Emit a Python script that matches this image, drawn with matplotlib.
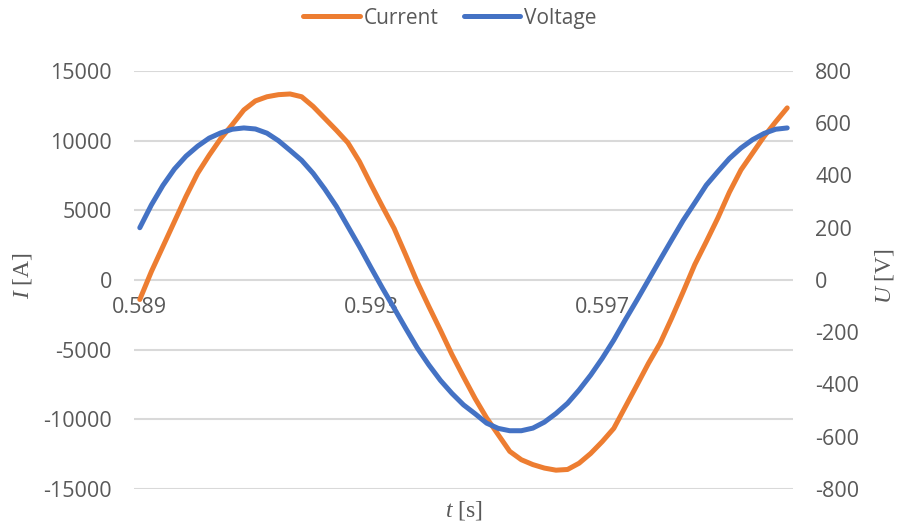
import matplotlib

matplotlib.use("Agg")
import matplotlib.pyplot as plt

# sample times [s], one sample every 0.2 ms
time_s = [
    0.5890, 0.5892, 0.5894, 0.5896, 0.5898, 0.5900, 0.5902, 0.5904, 0.5906, 0.5908,
    0.5910, 0.5912, 0.5914, 0.5916, 0.5918, 0.5920, 0.5922, 0.5924, 0.5926, 0.5928,
    0.5930, 0.5932, 0.5934, 0.5936, 0.5938, 0.5940, 0.5942, 0.5944, 0.5946, 0.5948,
    0.5950, 0.5952, 0.5954, 0.5956, 0.5958, 0.5960, 0.5962, 0.5964, 0.5966, 0.5968,
    0.5970, 0.5972, 0.5974, 0.5976, 0.5978, 0.5980, 0.5982, 0.5984, 0.5986, 0.5988,
    0.5990, 0.5992, 0.5994, 0.5996, 0.5998, 0.6000, 0.6002,
]

current_a = [
    -1400, 600, 2400, 4200, 6000, 7650, 8950, 10150, 11150, 12200,
    12850, 13150, 13300, 13350, 13150, 12450, 11600, 10750, 9850, 8500,
    6850, 5250, 3700, 1800, -150, -1900, -3600, -5350, -6950, -8500,
    -9900, -11100, -12300, -12900, -13250, -13500, -13650, -13600, -13150, -12450,
    -11600, -10650, -9100, -7550, -5980, -4550, -2750, -850, 1100, 2750,
    4450, 6300, 7900, 9100, 10300, 11350, 12350,
]

voltage_v = [
    200, 287, 362, 425, 474, 512, 543, 563, 577, 582,
    578, 562, 533, 496, 458, 408, 348, 282, 205, 128,
    47, -32, -108, -185, -260, -325, -384, -434, -478, -512,
    -548, -568, -577, -577, -567, -544, -511, -472, -421, -364,
    -300, -230, -152, -77, 0, 77, 153, 228, 295, 363,
    415, 465, 505, 537, 561, 577, 582,
]

time_ticks = [0.589, 0.593, 0.597]
current_ticks = [-15000, -10000, -5000, 0, 5000, 10000, 15000]
voltage_ticks = [-800, -600, -400, -200, 0, 200, 400, 600, 800]

ORANGE = "#ED7D31"
BLUE = "#4472C4"
GREY = "#595959"
GRID = "#D9D9D9"

plt.rcParams["font.family"] = ["Open Sans", "DejaVu Sans"]
plt.rcParams["axes.unicode_minus"] = False
plt.rcParams["mathtext.fontset"] = "custom"
plt.rcParams["mathtext.it"] = "Liberation Serif:italic"
plt.rcParams["mathtext.rm"] = "Liberation Serif"

fig = plt.figure(figsize=(9, 5.25), dpi=100)
ax = fig.add_axes([0.1489, 0.0686, 0.7322, 0.7962])
ax2 = ax.twinx()

line_kw = dict(linewidth=3.6, solid_capstyle="round", solid_joinstyle="round")
(l_cur,) = ax.plot(time_s, current_a, color=ORANGE, label="Current", **line_kw)
(l_volt,) = ax2.plot(time_s, voltage_v, color=BLUE, label="Voltage", **line_kw)

step = time_s[1] - time_s[0]
ax.set_xlim(time_s[0] - step / 2, time_s[-1] + step / 2)
ax.set_ylim(-15000, 15000)
ax2.set_ylim(-800, 800)

ax.set_yticks(current_ticks)
ax2.set_yticks(voltage_ticks)
ax.set_xticks(time_ticks)
ax.set_xticklabels([f"{t:.3f}" for t in time_ticks])

# category axis crosses at zero, labels hang just under it
ax.spines["bottom"].set_position(("data", 0))
for a in (ax, ax2):
    for sp in a.spines.values():
        sp.set_visible(False)

ax.grid(axis="y", color=GRID, linewidth=1.5)
ax.set_axisbelow(True)

TICK_SIZE = 15.5
ax.tick_params(axis="x", length=0, pad=12, labelsize=TICK_SIZE, labelcolor=GREY)
ax.tick_params(axis="y", length=0, pad=16, labelsize=TICK_SIZE, labelcolor=GREY)
ax2.tick_params(axis="y", length=0, pad=16, labelsize=TICK_SIZE, labelcolor=GREY)

# axis titles: italic quantity symbol, upright unit
label_kw = dict(fontsize=17, color=GREY, family="Liberation Serif",
                ha="center", va="center")
fig.text(0.515, 1 - 510 / 525, r"$t$ [s]", **label_kw)
fig.text(23 / 900, 1 - 276 / 525, r"$I$ [A]", rotation=90, **label_kw)
fig.text(885 / 900, 1 - 276 / 525, r"$U$ [V]", rotation=90, **label_kw)

fig.legend(
    handles=[l_cur, l_volt],
    loc="center",
    bbox_to_anchor=(0.5, 1 - 18 / 525),
    ncol=2,
    frameon=False,
    fontsize=15,
    labelcolor=GREY,
    handlelength=2.7,
    handletextpad=0.2,
    columnspacing=1.2,
)

fig.savefig("out.png", dpi=100)
